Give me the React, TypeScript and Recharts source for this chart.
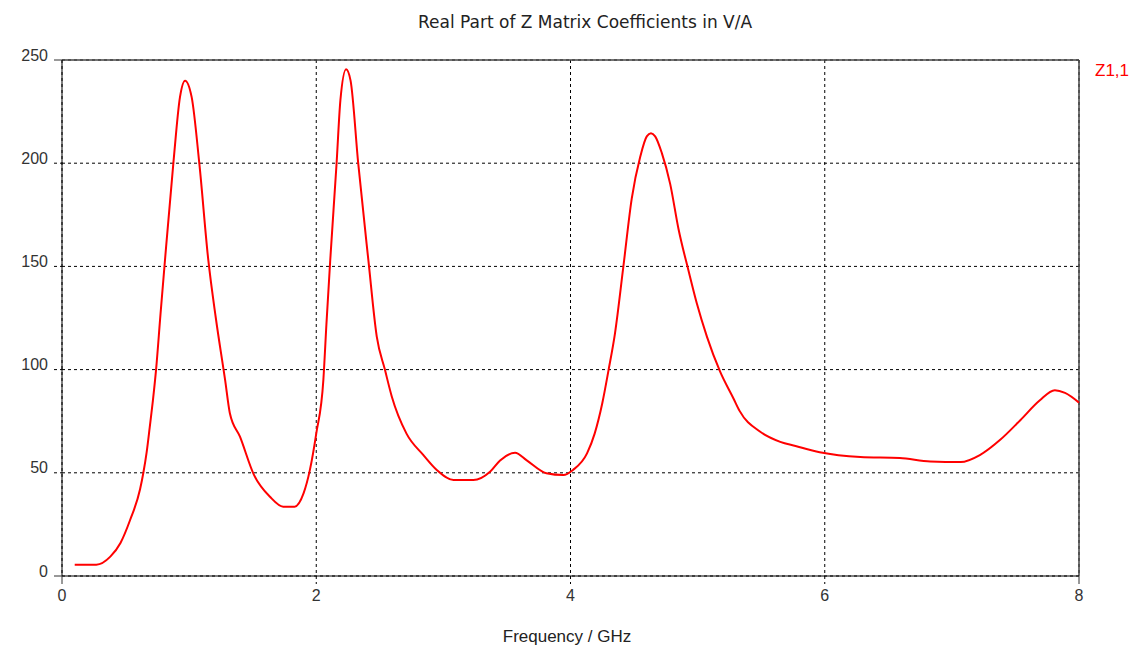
import React from "react";
import {
  LineChart,
  Line,
  XAxis,
  YAxis,
  CartesianGrid,
  ReferenceLine,
} from "recharts";

// Frequency samples (GHz) and Re(Z1,1) in V/A
const frequency = [
  0.1, 0.27, 0.38, 0.46, 0.535, 0.614, 0.64, 0.666, 0.69, 0.715, 0.74, 0.775,
  0.81, 0.876, 0.928, 0.968, 1.02, 1.08, 1.151, 1.21, 1.283, 1.32, 1.4, 1.51,
  1.636, 1.74, 1.83, 1.9, 1.95, 2.0, 2.056, 2.08, 2.11, 2.16, 2.19, 2.235, 2.27,
  2.33, 2.41, 2.476, 2.54, 2.594, 2.71, 2.843, 2.948, 3.08, 3.236, 3.367, 3.446,
  3.564, 3.656, 3.81, 3.944, 4.02, 4.13, 4.19, 4.25, 4.3, 4.35, 4.416, 4.482,
  4.548, 4.6, 4.633, 4.666, 4.718, 4.784, 4.85, 4.928, 4.994, 5.073, 5.177,
  5.282, 5.33, 5.49, 5.65, 5.77, 5.96, 6.28, 6.59, 6.83, 7.07, 7.22, 7.38, 7.54,
  7.69, 7.81, 7.89, 8.0,
];

const reZ11 = [
  5.5, 5.5, 9.4, 16, 27, 42, 50, 60, 72, 85, 100, 127, 153, 200, 232, 240, 232,
  200, 153, 125, 95, 79, 67.5, 49, 38.4, 33.6, 33.6, 40, 51.4, 69, 95, 122, 153,
  200, 230.6, 245.5, 240, 200, 153, 116, 100, 87, 69, 58.6, 51.4, 46.5, 46.5,
  50.5, 56, 59.7, 56, 49.8, 48.9, 51.4, 59.4, 69, 83.7, 100, 117.6, 150, 183,
  203, 213, 214.5, 213, 205, 190, 168, 148, 132, 116, 99, 86, 80, 70, 65, 63,
  60, 57.7, 57.2, 55.5, 55.2, 58.6, 66, 75.6, 85, 90, 88.7, 84,
];

const xTicks = [0, 2, 4, 6, 8];
const yTicks = [0, 50, 100, 150, 200, 250];

const title = "Real Part of Z Matrix Coefficients in V/A";
const xLabel = "Frequency / GHz";
const seriesName = "Z1,1";

const data = frequency.map((f, i) => ({ f, z: reZ11[i] }));

const FONT = "'Liberation Sans', Arial, sans-serif";
const TITLE_FONT = "'DejaVu Sans', Verdana, sans-serif";
const TICK_SIZE = 8;
const TICK_MARGIN = 6;

const YTick = (props: any) => {
  const { x, y, payload } = props;
  const edge = payload.value === yTicks[0] || payload.value === yTicks[yTicks.length - 1];
  const x2 = x + TICK_MARGIN + TICK_SIZE;
  return (
    <g>
      <line
        x1={x + TICK_MARGIN}
        x2={x2}
        y1={y}
        y2={y}
        stroke={edge ? "#333" : "#000"}
        strokeDasharray={edge ? undefined : "3 3"}
      />
      <text
        x={x}
        y={y - 5}
        textAnchor="end"
        dominantBaseline="central"
        fill="#333"
        fontFamily={FONT}
        fontSize={16}
      >
        {payload.value}
      </text>
    </g>
  );
};

const XTick = (props: any) => {
  const { x, y, payload } = props;
  const edge = payload.value === xTicks[0] || payload.value === xTicks[xTicks.length - 1];
  const top = y - TICK_MARGIN - TICK_SIZE;
  return (
    <g>
      <line
        x1={x}
        x2={x}
        y1={top}
        y2={top + TICK_SIZE}
        stroke={edge ? "#333" : "#000"}
        strokeDasharray={edge ? undefined : "3 3"}
      />
      <text
        x={x}
        y={y + 5}
        textAnchor="middle"
        dominantBaseline="central"
        fill="#333"
        fontFamily={FONT}
        fontSize={16}
      >
        {payload.value}
      </text>
    </g>
  );
};

export default function App() {
  return (
    <div style={{ position: "relative", width: 1130, height: 644, background: "#fff" }}>
      <LineChart
        width={1130}
        height={644}
        data={data}
        margin={{ top: 52, right: 59, bottom: 46, left: 0 }}
      >
        <CartesianGrid stroke="#000" strokeDasharray="3 3" />
        <XAxis
          dataKey="f"
          type="number"
          domain={[0, 8]}
          ticks={xTicks}
          height={30}
          tickSize={TICK_SIZE}
          tickMargin={TICK_MARGIN}
          tickLine={false}
          axisLine={{ stroke: "#000" }}
          tick={<XTick />}
          interval={0}
        />
        <YAxis
          type="number"
          domain={[0, 250]}
          ticks={yTicks}
          width={54}
          tickSize={TICK_SIZE}
          tickMargin={TICK_MARGIN}
          tickLine={false}
          axisLine={{ stroke: "#000" }}
          tick={<YTick />}
          interval={0}
        />
        <ReferenceLine y={250} stroke="#444" strokeWidth={1.5} />
        <ReferenceLine x={8} stroke="#444" strokeWidth={1.5} />
        <Line
          type="monotone"
          dataKey="z"
          stroke="#ff0000"
          strokeWidth={2}
          dot={false}
          isAnimationActive={false}
        />
      </LineChart>
      <div
        style={{
          position: "absolute",
          left: 410,
          top: 4,
          fontFamily: TITLE_FONT,
          fontSize: 17,
          color: "#222",
          whiteSpace: "nowrap",
        }}
      >
        {title}
      </div>
      <div
        style={{
          position: "absolute",
          left: 0,
          width: 1118,
          top: 619,
          textAlign: "center",
          fontFamily: FONT,
          fontSize: 17,
          color: "#222",
          whiteSpace: "nowrap",
        }}
      >
        {xLabel}
      </div>
      <div
        style={{
          position: "absolute",
          left: 1087,
          top: 53,
          fontFamily: FONT,
          fontSize: 17,
          color: "#ff0000",
          whiteSpace: "nowrap",
        }}
      >
        {seriesName}
      </div>
    </div>
  );
}
